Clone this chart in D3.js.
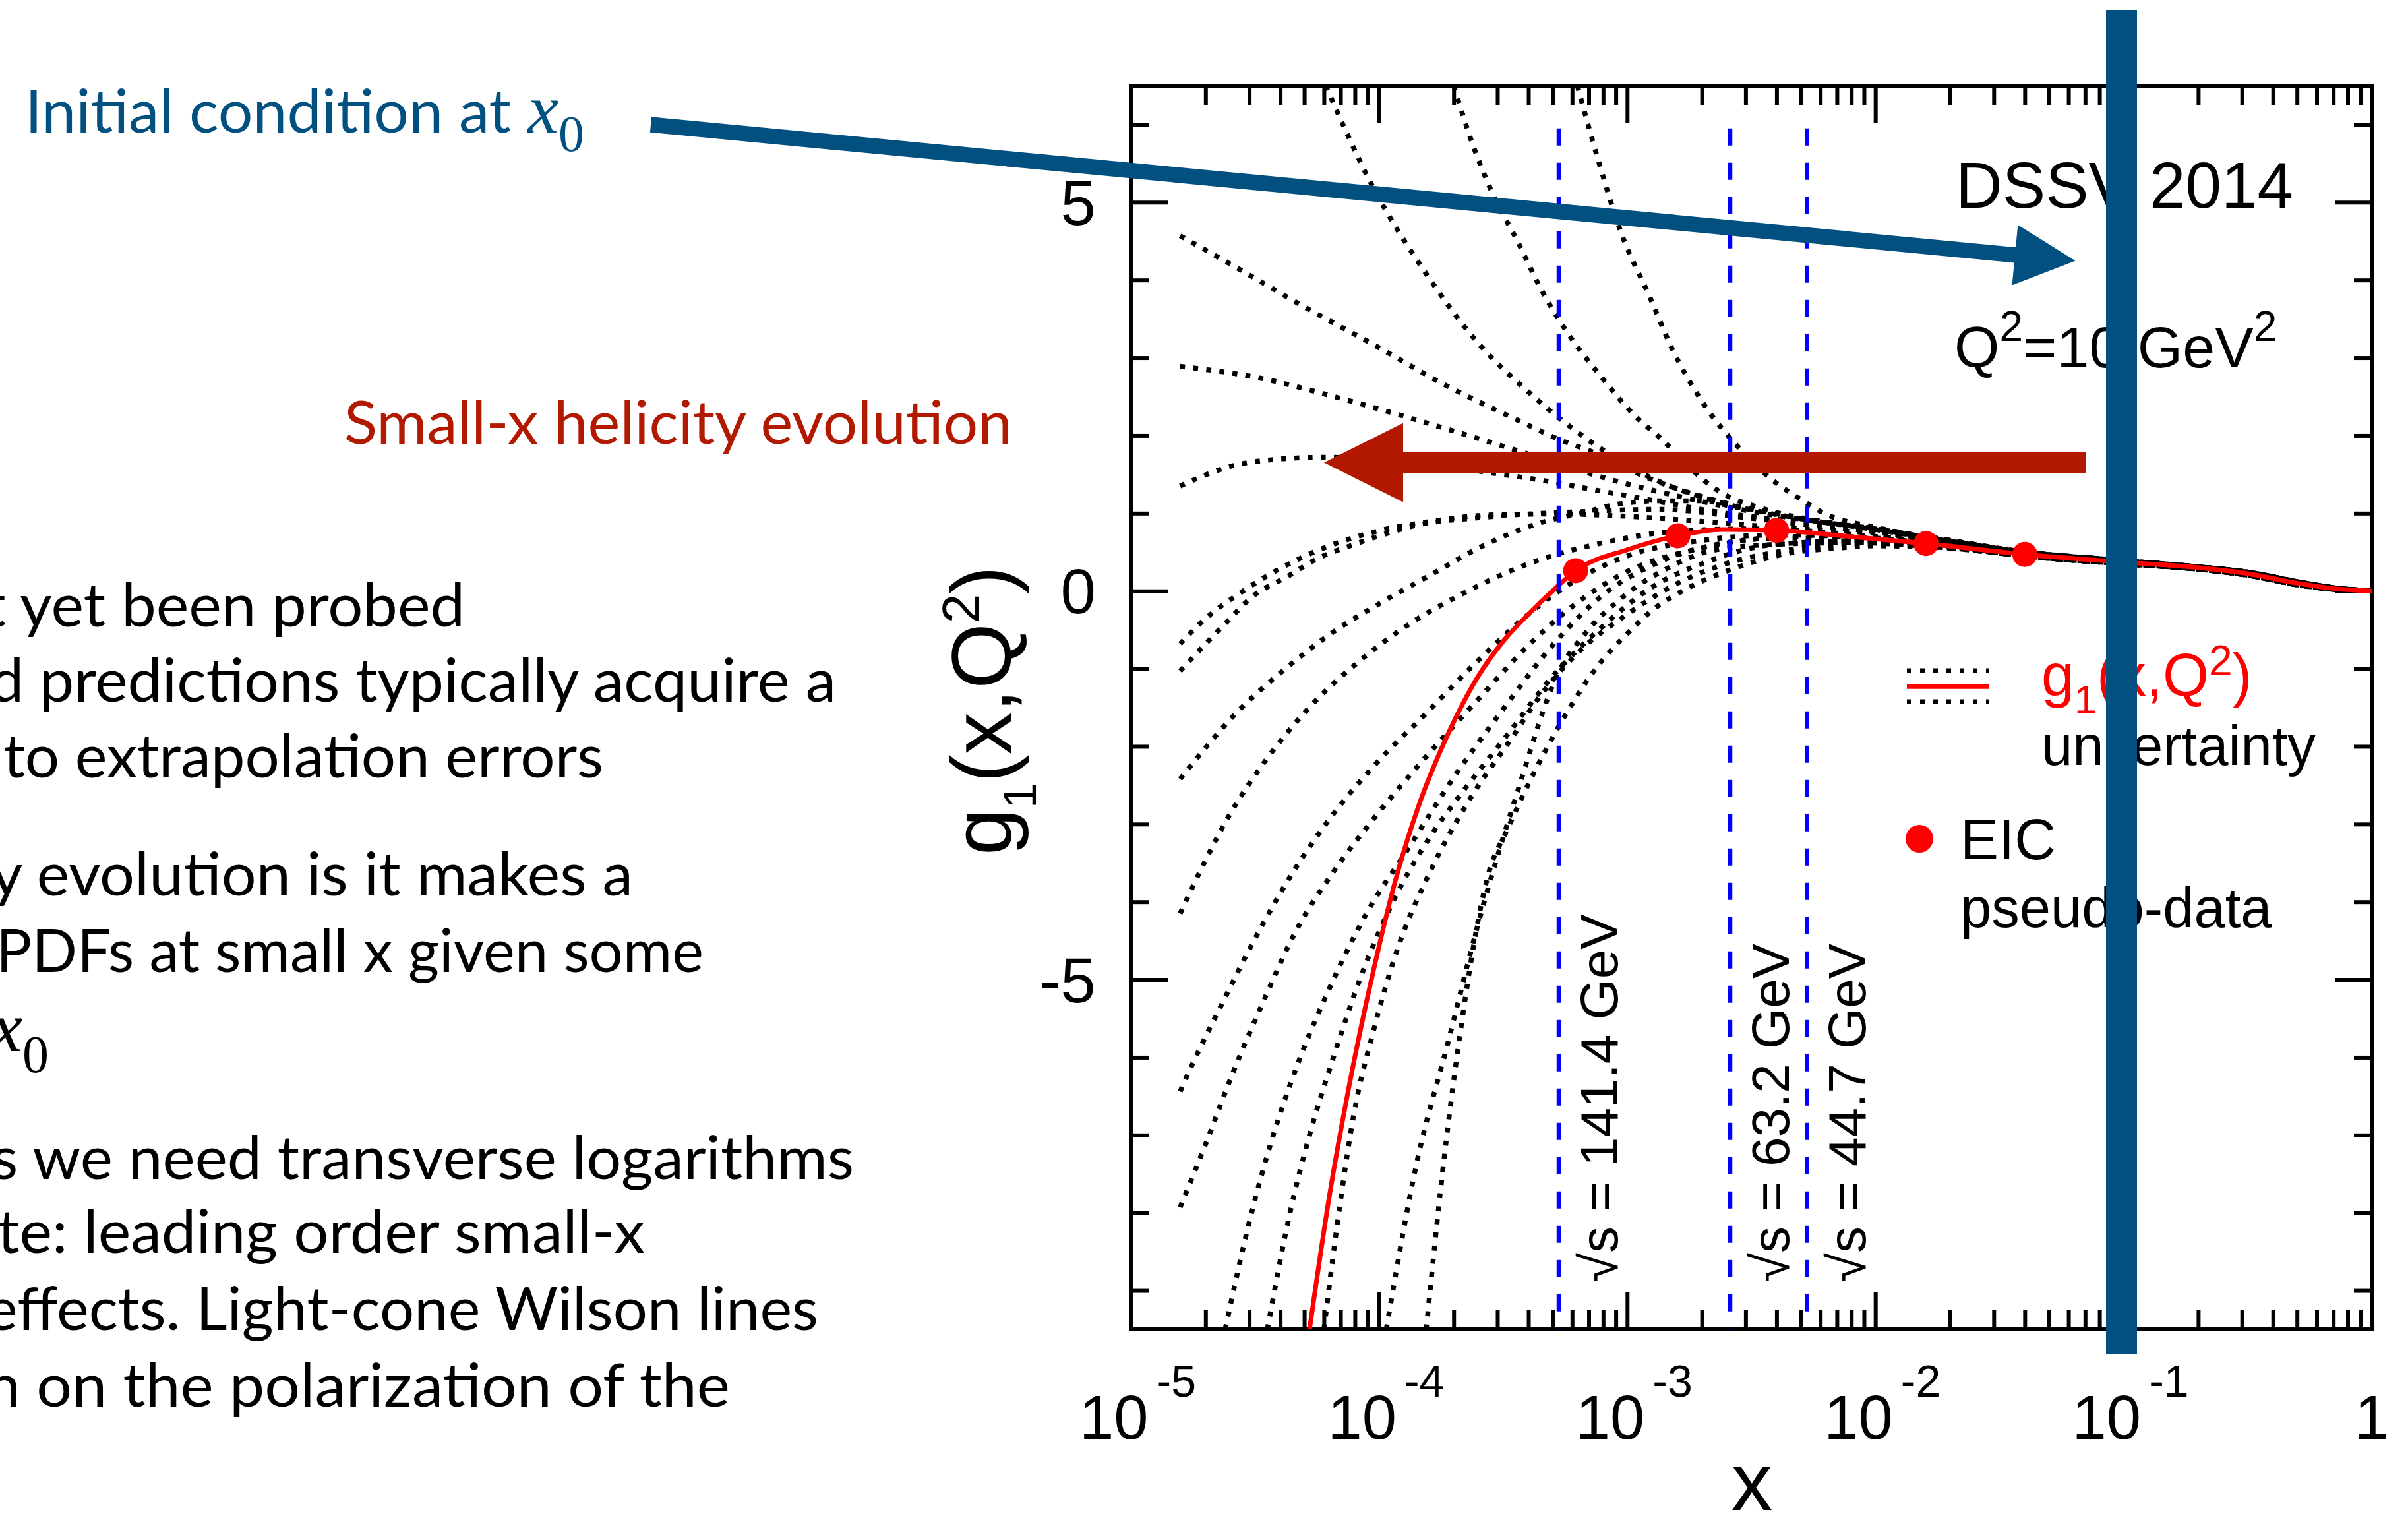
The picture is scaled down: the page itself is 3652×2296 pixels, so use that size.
<!DOCTYPE html>
<html>
<head>
<meta charset="utf-8">
<script src="https://cdn.jsdelivr.net/npm/d3@7"></script>
<style>
html, body { margin:0; padding:0; background:#fff; }
svg { display:block; }
</style>
</head>
<body>
<div id="chart"></div>
<script>
// ---- data ----
var redCurve = [[5.25e-5,-9.5],[6.3e-5,-7.8],[7.6e-5,-6.35],[9.55e-5,-4.85],[1.17e-4,-3.7],[1.45e-4,-2.75],[1.86e-4,-1.9],[2.4e-4,-1.2],[3.16e-4,-0.65],[4.0e-4,-0.3],[5.0e-4,0.0],[6.2e-4,0.26],[1.0e-3,0.53],[1.6e-3,0.71],[2.4e-3,0.79],[4.0e-3,0.78],[7.9e-3,0.70],[1.6e-2,0.61],[4.0e-2,0.47],[0.1,0.37],[0.2,0.30],[0.32,0.22],[0.5,0.10],[0.71,0.03],[1,0]];

var eicX = [6.2e-4, 1.6e-3, 4.0e-3, 1.6e-2, 4.0e-2];
var eicY = [0.26, 0.71, 0.78, 0.61, 0.47];

var tailHi = [[4e-2,0.50],[0.1,0.39],[0.2,0.31],[0.32,0.24],[0.5,0.12],[0.71,0.04],[1,0]];
var tailLo = [[4e-2,0.45],[0.1,0.35],[0.2,0.28],[0.32,0.20],[0.5,0.08],[0.71,0.02],[1,0]];

var curveT1 = [[6.1e-5,6.5],[9.4e-5,5.21],[1.55e-4,4.08],[2.4e-4,3.26],[4.1e-4,2.53],[7.2e-4,1.91],[1.26e-3,1.45],[2.5e-3,1.12],[5e-3,0.93],[1e-2,0.79],[2e-2,0.64]];
var curveT2 = [[2.0e-4,6.5],[2.4e-4,5.72],[2.9e-4,5.08],[3.6e-4,4.51],[4.5e-4,3.88],[5.75e-4,3.32],[7.7e-4,2.79],[1.07e-3,2.26],[1.4e-3,1.93],[1.74e-3,1.62],[2.3e-3,1.3],[3.6e-3,1.05],[6e-3,0.9],[1e-2,0.8],[2e-2,0.65]];
var curveT3 = [[6.3e-4,6.5],[7.6e-4,5.57],[9.5e-4,4.59],[1.23e-3,3.79],[1.51e-3,3.13],[2.0e-3,2.44],[2.9e-3,1.80],[3.8e-3,1.44],[5e-3,1.18],[6.2e-3,1.0],[1e-2,0.82],[2e-2,0.65]];
var curveA = [[1.58e-5,4.57],[2.7e-5,4.15],[5.1e-5,3.64],[9.5e-5,3.17],[1.82e-4,2.66],[3.5e-4,2.22],[5.5e-4,1.93],[7.1e-4,1.80],[1.2e-3,1.46],[2.3e-3,1.16],[4.5e-3,0.96],[1e-2,0.8],[2e-2,0.64]];
var curveB = [[1.58e-5,2.89],[3.3e-5,2.74],[6.6e-5,2.50],[1.35e-4,2.22],[2.7e-4,1.93],[4.3e-4,1.73],[8e-4,1.46],[1.6e-3,1.22],[3.2e-3,1.02],[6.3e-3,0.88],[1e-2,0.8],[2e-2,0.64]];
var curveC = [[1.58e-5,1.35],[2.5e-5,1.60],[4.1e-5,1.70],[6e-5,1.72],[1.2e-4,1.68],[2.8e-4,1.52],[4.6e-4,1.42],[7.4e-4,1.30],[1.1e-3,1.2],[2.5e-3,1.0],[6.3e-3,0.86],[1e-2,0.79],[2e-2,0.64]];
var curveL1 = [[1.58e-5,-0.68],[1.9e-5,-0.42],[2.9e-5,0.02],[5.2e-5,0.47],[9.3e-5,0.75],[1.66e-4,0.90],[2.9e-4,0.98],[5.1e-4,0.99],[1e-3,0.96],[1.9e-3,0.9],[4e-3,0.82],[1e-2,0.74],[2e-2,0.62]];
var curveL2 = [[1.58e-5,-1.03],[2.4e-5,-0.42],[3.1e-5,-0.07],[4.3e-5,0.19],[5.6e-5,0.41],[7.8e-5,0.59],[1.03e-4,0.72],[1.35e-4,0.83],[2.7e-4,0.95],[6.5e-4,1.02],[1.36e-3,1.05],[2.7e-3,0.96],[5e-3,0.86],[1e-2,0.76],[2e-2,0.63]];
var curveL3 = [[1.58e-5,-2.42],[2.7e-5,-1.55],[4.2e-5,-1.0],[6.6e-5,-0.52],[1.02e-4,-0.15],[1.6e-4,0.2],[2.7e-4,0.6],[4.5e-4,0.88],[6.5e-4,1.0],[9.3e-4,1.12],[1.36e-3,1.16],[2.0e-3,1.16],[2.7e-3,1.08],[3.5e-3,1.03],[5e-3,0.93],[1e-2,0.8],[2e-2,0.65]];
var curveL4 = [[1.58e-5,-4.15],[2.5e-5,-2.88],[3.55e-5,-2.15],[5.2e-5,-1.51],[8.5e-5,-0.88],[1.38e-4,-0.39],[2.1e-4,-0.06],[4e-4,0.35],[8e-4,0.62],[1.6e-3,0.77],[3.2e-3,0.8],[1e-2,0.7],[2e-2,0.6]];
var curveL5 = [[1.58e-5,-6.44],[1.77e-5,-6.09],[2.34e-5,-5.30],[3.12e-5,-4.51],[4.42e-5,-3.66],[6.3e-5,-2.94],[9.8e-5,-2.21],[1.51e-4,-1.61],[2.5e-4,-0.9],[4e-4,-0.3],[6.3e-4,0.15],[1e-3,0.45],[2e-3,0.65],[4e-3,0.72],[1e-2,0.68],[2e-2,0.58]];
var curveL6 = [[1.58e-5,-7.93],[2e-5,-7.12],[2.57e-5,-6.21],[3.4e-5,-5.30],[4.6e-5,-4.39],[6.6e-5,-3.60],[9.8e-5,-2.88],[1.58e-4,-2.1],[2.5e-4,-1.4],[4e-4,-0.7],[6.3e-4,-0.15],[1e-3,0.25],[2e-3,0.55],[4e-3,0.68],[1e-2,0.66],[2e-2,0.57]];
var curveB1 = [[2.4e-5,-9.5],[3.05e-5,-8.03],[3.7e-5,-7.06],[4.7e-5,-6.09],[6.3e-5,-5.12],[8.9e-5,-4.15],[1.32e-4,-3.30],[2e-4,-2.4],[3.2e-4,-1.5],[5e-4,-0.7],[8e-4,-0.05],[1.3e-3,0.35],[2.5e-3,0.62],[5e-3,0.7],[1e-2,0.66],[2e-2,0.57]];
var curveB2 = [[3.55e-5,-9.5],[4.4e-5,-7.97],[5.25e-5,-7.0],[6.6e-5,-5.97],[8.5e-5,-4.94],[1.15e-4,-3.97],[1.64e-4,-3.12],[2.04e-4,-2.70],[3.2e-4,-1.9],[5e-4,-1.1],[8e-4,-0.45],[1.26e-3,0.05],[2e-3,0.35],[4e-3,0.6],[1e-2,0.65],[2e-2,0.57]];
var curveB3 = [[6.0e-5,-9.5],[7.0e-5,-7.84],[7.9e-5,-6.75],[9.5e-5,-5.66],[1.18e-4,-4.63],[1.58e-4,-3.66],[2.3e-4,-2.70],[3.5e-4,-1.85],[4.3e-4,-1.42],[6.3e-4,-0.8],[1e-3,-0.3],[1.6e-3,0.1],[2.5e-3,0.35],[4e-3,0.5],[8e-3,0.6],[2e-2,0.56]];
var curveB4 = [[1.07e-4,-9.5],[1.41e-4,-7.4],[1.9e-4,-5.8],[2.5e-4,-4.3],[3.6e-4,-2.6],[5.3e-4,-1.04],[6.8e-4,-0.54],[9.5e-4,-0.09],[1.45e-3,0.29],[2.2e-3,0.52],[4e-3,0.6],[8e-3,0.62],[2e-2,0.55]];
var curveB5 = [[1.55e-4,-9.5],[1.8e-4,-7.5],[2.1e-4,-5.8],[2.75e-4,-3.66],[3.3e-4,-3.06],[5.2e-4,-1.79],[7.9e-4,-0.9],[1e-3,-0.55],[1.26e-3,-0.25],[1.74e-3,0.03],[2.7e-3,0.29],[4.4e-3,0.48],[7e-3,0.55],[1e-2,0.58],[2e-2,0.55]];

var upperCurves = [curveT1, curveT2, curveT3, curveA, curveB, curveC, curveL1, curveL2, curveL3];
var lowerCurves = [curveL4, curveL5, curveL6, curveB1, curveB2, curveB3, curveB4, curveB5];

var sqrtS = ["141.4", "63.2", "44.7"];
var xLimit = [5.3e-4, 2.6e-3, 5.3e-3];

var xMajor = [1e-5, 1e-4, 1e-3, 1e-2, 1e-1, 1];
var xExp = ["-5", "-4", "-3", "-2", "-1"];
var yMajor = [5, 0, -5];
var yMinor = [6, 4, 3, 2, 1, -1, -2, -3, -4, -6, -7, -8, -9];

var bodyLines = ["t yet been probed", "d predictions typically acquire a", "to extrapolation errors",
  "y evolution is it makes a", "PDFs at small x given some",
  "s we need transverse logarithms", "te: leading order small-x", "effects. Light-cone Wilson lines", "n on the polarization of the"];
var bodyBox = [[-25,705,950],[-16,1268,1064],[5,915,1179],[-14,960,1358],[-6,1067,1474],[-13,1295,1788],[-4,978,1900],[-22,1241,2017],[-22,1107,2133]];

// ---- page ----
var W = 3652, H = 2296;
var blue = "#01507f", darkRed = "#b11900";
var svg = d3.select("#chart").append("svg").attr("width", W).attr("height", H);
svg.append("rect").attr("width", W).attr("height", H).attr("fill", "#fff");

var x = d3.scaleLog().domain([1e-5, 1]).range([1715, 3597]);
var y = d3.scaleLinear().domain([-9.5, 6.5]).range([2016, 130]);

svg.append("clipPath").attr("id", "frame")
  .append("rect").attr("x", 1715).attr("y", 130).attr("width", 1882).attr("height", 1886);

// minor x ticks 2..9 per decade
var xMinor = [];
xMajor.slice(0, 5).forEach(function(d) { for (var k = 2; k < 10; k++) xMinor.push(d * k); });

function ticks(axis, tr) {
  var g = svg.append("g").attr("transform", tr).call(axis);
  g.select(".domain").remove();
  g.selectAll("line").attr("stroke", "#000").attr("stroke-width", 6);
  return g;
}
ticks(d3.axisBottom(x).tickValues(xMinor).tickSize(-29).tickFormat(""), "translate(0,2016)");
ticks(d3.axisBottom(x).tickValues(xMajor).tickSize(-57).tickFormat(""), "translate(0,2016)");
ticks(d3.axisTop(x).tickValues(xMinor).tickSize(-29).tickFormat(""), "translate(0,130)");
ticks(d3.axisTop(x).tickValues(xMajor).tickSize(-57).tickFormat(""), "translate(0,130)");
ticks(d3.axisLeft(y).tickValues(yMinor).tickSize(-27).tickFormat(""), "translate(1715,0)");
ticks(d3.axisLeft(y).tickValues(yMajor).tickSize(-56).tickFormat(""), "translate(1715,0)");
ticks(d3.axisRight(y).tickValues(yMinor).tickSize(-27).tickFormat(""), "translate(3597,0)");
ticks(d3.axisRight(y).tickValues(yMajor).tickSize(-56).tickFormat(""), "translate(3597,0)");

svg.append("rect").attr("x", 1715).attr("y", 130).attr("width", 1882).attr("height", 1886)
  .attr("fill", "none").attr("stroke", "#000").attr("stroke-width", 6);

// tick labels
var font = "'Liberation Sans', Arial, Helvetica, sans-serif";
xMajor.slice(0, 5).forEach(function(v, i) {
  var t = svg.append("text").attr("x", x(v) - 78).attr("y", 2182)
    .attr("font-family", font).attr("font-size", 94).text("10");
  t.append("tspan").attr("dx", 12).attr("dy", -64).attr("font-size", 68).text(xExp[i]);
});
svg.append("text").attr("x", x(1)).attr("y", 2182).attr("text-anchor", "middle")
  .attr("font-family", font).attr("font-size", 94).text("1");
yMajor.forEach(function(v) {
  svg.append("text").attr("x", 1662).attr("y", y(v) + 34).attr("text-anchor", "end")
    .attr("font-family", font).attr("font-size", 96).text(v);
});

// axis titles
svg.append("text").attr("x", 2657).attr("y", 2290).attr("text-anchor", "middle")
  .attr("font-family", font).attr("font-size", 125).text("x");
var yt = svg.append("text").attr("transform", "translate(1533,1297) rotate(-90)")
  .attr("font-family", font).attr("font-size", 128);
yt.append("tspan").text("g");
yt.append("tspan").attr("font-size", 70).attr("dy", 38).text("1");
yt.append("tspan").attr("dy", -38).text("(x,Q");
yt.append("tspan").attr("font-size", 80).attr("dy", -48).text("2");
yt.append("tspan").attr("dy", 48).text(")");

// uncertainty replicas
var dots = "7.5 12.5";
var line = d3.line().x(function(d) { return x(d[0]); }).y(function(d) { return y(d[1]); }).curve(d3.curveMonotoneX);
var plot = svg.append("g").attr("clip-path", "url(#frame)");
plot.selectAll("path.hi").data(upperCurves).enter().append("path")
  .attr("class", "hi").attr("d", function(d) { return line(d.concat(tailHi)); })
  .attr("fill", "none").attr("stroke", "#000").attr("stroke-width", 7.5).attr("stroke-dasharray", dots);
plot.selectAll("path.lo").data(lowerCurves).enter().append("path")
  .attr("class", "lo").attr("d", function(d) { return line(d.concat(tailLo)); })
  .attr("fill", "none").attr("stroke", "#000").attr("stroke-width", 7.5).attr("stroke-dasharray", dots);

// central curve + pseudo-data
plot.append("path").attr("d", line(redCurve)).attr("fill", "none").attr("stroke", "#ff0000").attr("stroke-width", 7);
plot.selectAll("circle").data(eicX).enter().append("circle")
  .attr("cx", function(d) { return x(d); }).attr("cy", function(d, i) { return y(eicY[i]); })
  .attr("r", 19).attr("fill", "#ff0000");

// kinematic limits
xLimit.forEach(function(v, i) {
  svg.append("line").attr("x1", x(v)).attr("x2", x(v)).attr("y1", y(5.95)).attr("y2", y(-9.5))
    .attr("stroke", "#0000ff").attr("stroke-width", 6.5).attr("stroke-dasharray", "26 26");
  svg.append("text").attr("transform", "translate(" + (x(v) + 89) + ",1944) rotate(-90)")
    .attr("font-family", font).attr("font-size", 80).text("\u221As = " + sqrtS[i] + " GeV");
});

// labels
svg.append("text").attr("x", 2966).attr("y", 315).attr("font-family", font).attr("font-size", 98).text("DSSV 2014");
var q = svg.append("text").attr("x", 2964).attr("y", 557).attr("font-family", font).attr("font-size", 88);
q.append("tspan").text("Q");
q.append("tspan").attr("font-size", 64).attr("dy", -40).text("2");
q.append("tspan").attr("dy", 40).text("=10 GeV");
q.append("tspan").attr("font-size", 64).attr("dy", -40).text("2");

// legend
[1017, 1064].forEach(function(yy) {
  svg.append("line").attr("x1", 2892).attr("x2", 3017).attr("y1", yy).attr("y2", yy)
    .attr("stroke", "#000").attr("stroke-width", 7).attr("stroke-dasharray", "7 13");
});
svg.append("line").attr("x1", 2892).attr("x2", 3017).attr("y1", 1041).attr("y2", 1041)
  .attr("stroke", "#ff0000").attr("stroke-width", 7.5);
var lg = svg.append("text").attr("x", 3096).attr("y", 1055).attr("font-family", font).attr("font-size", 90).attr("fill", "#ff0000");
lg.append("tspan").text("g");
lg.append("tspan").attr("font-size", 61).attr("dy", 27).text("1");
lg.append("tspan").attr("dy", -27).text("(x,Q");
lg.append("tspan").attr("font-size", 64).attr("dy", -31).text("2");
lg.append("tspan").attr("dy", 31).text(")");
svg.append("text").attr("x", 3096).attr("y", 1160).attr("font-family", font).attr("font-size", 85).text("uncertainty");
svg.append("circle").attr("cx", 2911).attr("cy", 1272).attr("r", 21).attr("fill", "#ff0000");
svg.append("text").attr("x", 2973).attr("y", 1303).attr("font-family", font).attr("font-size", 87).text("EIC");
svg.append("text").attr("x", 2973).attr("y", 1406).attr("font-family", font).attr("font-size", 85).text("pseudo-data");

// slide text
var slideFont = "Lato, 'Open Sans', sans-serif";
bodyLines.forEach(function(s, i) {
  var b = bodyBox[i];
  svg.append("text").attr("x", b[0]).attr("y", b[2]).attr("font-family", slideFont).attr("font-size", 92)
    .attr("textLength", b[1] - b[0]).attr("lengthAdjust", "spacingAndGlyphs").text(s);
});
var x0a = svg.append("text").attr("x", -14).attr("y", 1594).attr("font-family", "'Liberation Serif', serif").attr("font-size", 108);
x0a.append("tspan").attr("font-style", "italic").text("x");
x0a.append("tspan").attr("font-size", 80).attr("dy", 32).text("0");

svg.append("text").attr("x", 38).attr("y", 201).attr("font-family", slideFont).attr("font-size", 92).attr("fill", blue)
  .attr("textLength", 737).attr("lengthAdjust", "spacingAndGlyphs").text("Initial condition at");
var x0b = svg.append("text").attr("x", 800).attr("y", 201).attr("font-family", "'Liberation Serif', serif").attr("font-size", 106).attr("fill", blue);
x0b.append("tspan").attr("font-style", "italic").text("x");
x0b.append("tspan").attr("font-size", 78).attr("dy", 28).text("0");

svg.append("text").attr("x", 522).attr("y", 673).attr("font-family", slideFont).attr("font-size", 92).attr("fill", darkRed)
  .attr("textLength", 1013).attr("lengthAdjust", "spacingAndGlyphs").text("Small-x helicity evolution");

// arrows
function arrow(x0, y0, x1, y1, shaft, headW, headL) {
  var len = Math.hypot(x1 - x0, y1 - y0), ux = (x1 - x0) / len, uy = (y1 - y0) / len, nx = -uy, ny = ux;
  var bx = x1 - ux * headL, by = y1 - uy * headL, s = shaft / 2;
  return [[x0 + nx * s, y0 + ny * s], [bx + nx * s, by + ny * s], [bx + nx * headW, by + ny * headW], [x1, y1],
          [bx - nx * headW, by - ny * headW], [bx - nx * s, by - ny * s], [x0 - nx * s, y0 - ny * s]];
}
svg.append("polygon").attr("points", arrow(3164, 701.5, 2008, 701.5, 31, 60, 120).join(" ")).attr("fill", "#b31900");
svg.append("polygon").attr("points", arrow(987, 189, 3147.5, 395.5, 23.5, 46, 92).join(" ")).attr("fill", blue);
svg.append("rect").attr("x", 3194).attr("y", 15).attr("width", 47).attr("height", 2039).attr("fill", blue);
</script>
</body>
</html>
